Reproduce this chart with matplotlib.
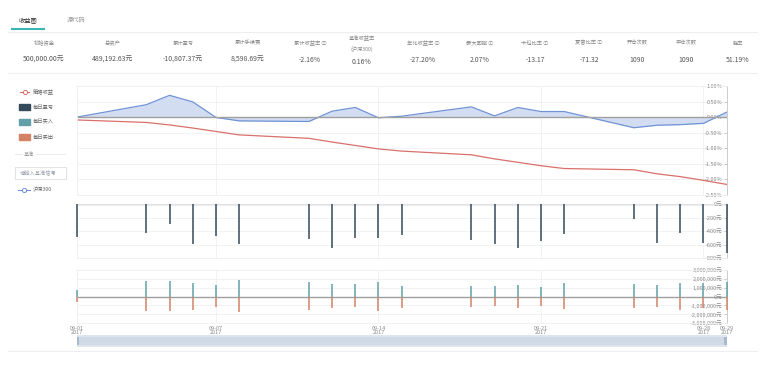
import numpy as np
import matplotlib.pyplot as plt
from matplotlib.patches import Rectangle

plt.rcParams['font.family'] = ['Noto Sans CJK SC', 'DejaVu Sans']

# trading days, September 2017
dates = ['09-01', '09-04', '09-05', '09-06', '09-07', '09-08', '09-11', '09-12',
         '09-13', '09-14', '09-15', '09-18', '09-19', '09-20', '09-21', '09-22',
         '09-25', '09-26', '09-27', '09-28', '09-29']
# cumulative returns (%)
strategy = [-0.09, -0.17, -0.25, -0.35, -0.46, -0.57, -0.68, -0.80, -0.91, -1.02, -1.09,
            -1.21, -1.34, -1.45, -1.56, -1.65, -1.69, -1.82, -1.91, -2.03, -2.16]
hs300 = [0.0, 0.40, 0.70, 0.49, -0.01, -0.12, -0.14, 0.19, 0.31, -0.02, 0.03,
         0.33, 0.04, 0.31, 0.18, 0.18, -0.34, -0.26, -0.24, -0.20, 0.16]
# daily profit / loss (yuan)
pnl = [-494, -425, -296, -588, -469, -588, -523, -652, -499, -509, -462,
       -528, -588, -657, -543, -440, -222, -578, -435, -573, -731]
# daily buy / sell (yuan)
buy = [0.75e6, 1.76e6, 1.76e6, 1.57e6, 1.31e6, 1.87e6, 1.61e6, 1.39e6, 1.39e6, 1.61e6, 1.24e6,
       1.24e6, 1.24e6, 1.31e6, 1.09e6, 1.50e6, 1.42e6, 1.35e6, 1.54e6, 1.50e6, 1.69e6]
sell = [-0.64e6, -1.69e6, -1.69e6, -1.50e6, -1.24e6, -1.80e6, -1.54e6, -1.31e6, -1.24e6, -1.61e6, -1.25e6,
        -1.24e6, -1.12e6, -1.31e6, -1.05e6, -1.42e6, -1.35e6, -1.20e6, -1.50e6, -1.31e6, -1.57e6]
xtick_dates = ['09-01', '09-07', '09-14', '09-21', '09-28', '09-29']

stat_labels = ['初始资金', '总资产', '累计盈亏', '累计手续费', '累计收益率 ⓘ', '基准收益率\n(沪深300)',
               '年化收益率 ⓘ', '最大回撤 ⓘ', '卡玛比率 ⓘ', '夏普比率 ⓘ', '开仓次数', '平仓次数', '胜率']
stat_values = ['500,000.00元', '489,192.63元', '-10,807.37元', '8,598.69元', '-2.16%', '0.16%',
               '-27.20%', '2.07%', '-13.17', '-71.32', '1090', '1090', '51.19%']
stat_x = [44, 113, 183, 248, 310, 362, 423, 480, 535, 589, 637, 686, 738]

x = [int(d.split('-')[1]) for d in dates]
xt = [int(d.split('-')[1]) for d in xtick_dates]

RED = '#d9706b'
BLUE = '#6f93d6'
DARK = '#34495a'
TEAL = '#61a0a8'
CORAL = '#d48265'
GRID = '#eef0f3'
TXT = '#8a8a8a'

fig = plt.figure(figsize=(7.67, 3.69), dpi=100)

# overlay for header / legend (pixel coordinates)
deco = fig.add_axes([0, 0, 1, 1])
deco.set_xlim(0, 767)
deco.set_ylim(369, 0)
deco.axis('off')

deco.text(28, 20, '收益图', fontsize=4.5, color='#333', ha='center', va='center')
deco.text(76, 20, '源代码', fontsize=4.5, color='#999', ha='center', va='center')
deco.plot([12, 44], [28.5, 28.5], color='#3cb6b2', lw=1.5)
deco.plot([8, 757], [32, 32], color='#eeeeee', lw=0.8)
deco.plot([8, 757], [73, 73], color='#eeeeee', lw=0.8)
deco.plot([8, 757], [351, 351], color='#eeeeee', lw=0.8)
for lab, val, sx in zip(stat_labels, stat_values, stat_x):
    if '\n' in lab:
        deco.text(sx, 44, lab, fontsize=3.8, color='#888', ha='center', va='center', linespacing=2.2)
        deco.text(sx, 62, val, fontsize=5, color='#555', ha='center', va='center')
    else:
        deco.text(sx, 43, lab, fontsize=3.8, color='#888', ha='center', va='center')
        deco.text(sx, 60, val, fontsize=5, color='#555', ha='center', va='center')

# legend on the left
deco.plot([20, 29], [92, 92], color=RED, lw=0.8, zorder=1)
deco.plot([24.5], [92], marker='o', ms=3, mfc='white', mec=RED, mew=0.7)
deco.text(33, 92, '策略收益', fontsize=3.8, color='#666', va='center')
for yy, c, lab in [(107, DARK, '每日盈亏'), (122, TEAL, '每日买入'), (137, CORAL, '每日卖出')]:
    deco.add_patch(Rectangle((19, yy - 3), 11, 6, color=c))
    deco.text(33, yy, lab, fontsize=3.8, color='#666', va='center')
deco.plot([15, 22], [154, 154], color='#e5e5e5', lw=0.6)
deco.plot([36, 65], [154, 154], color='#e5e5e5', lw=0.6)
deco.text(29, 154, '基准', fontsize=3.8, color='#999', ha='center', va='center')
deco.add_patch(Rectangle((15, 167), 51, 12, fc='white', ec='#dddddd', lw=0.6))
deco.text(20, 173, '请输入基准信号', fontsize=3.8, color='#99a0aa', va='center')
deco.plot([18, 30], [190, 190], color=BLUE, lw=0.8)
deco.plot([24], [190], marker='o', ms=3, mfc='white', mec=BLUE, mew=0.7)
deco.text(33, 190, '沪深300', fontsize=3.8, color='#666', va='center')

L, W = 76.7 / 767, 650 / 767


def fa(top, bottom):
    return [L, 1 - bottom / 369, W, (bottom - top) / 369]


ax1 = fig.add_axes(fa(86, 195))
ax2 = fig.add_axes(fa(204, 258))
ax3 = fig.add_axes(fa(270, 323))
slider = fig.add_axes(fa(335, 347))


def style(ax, ticks, labels):
    ax.set_xlim(1, 29)
    ax.set_yticks(ticks)
    ax.set_yticklabels(labels)
    ax.set_xticks(xt)
    ax.grid(True, color=GRID, lw=0.6)
    ax.set_axisbelow(True)
    for s in ['left', 'top', 'bottom']:
        ax.spines[s].set_color(GRID)
        ax.spines[s].set_linewidth(0.6)
    ax.spines['right'].set_color('#cccccc')
    ax.spines['right'].set_linewidth(0.7)
    ax.tick_params(axis='y', labelleft=False, labelright=True, left=False, right=True,
                   direction='in', length=2, width=0.5, color='#bbbbbb', pad=-3,
                   labelsize=4, labelcolor=TXT)
    for t in ax.yaxis.get_major_ticks():
        t.label2.set_horizontalalignment('right')
    ax.tick_params(axis='x', length=0, labelbottom=False)


# cumulative returns
ax1.fill_between(x, hs300, 0, color='#d3ddf2', lw=0)
ax1.plot(x, hs300, color=BLUE, lw=0.9)
ax1.plot(x, strategy, color=RED, lw=0.9)
ax1.axhline(0, color='#a0a0a0', lw=1)
ax1.set_ylim(-2.5, 1.0)
t1 = np.arange(-2.5, 1.01, 0.5)
style(ax1, t1, ['%.2f%%' % v for v in t1])

# daily pnl
ax2.vlines(x, 0, pnl, color=DARK, lw=1.1, clip_on=False, zorder=3)
ax2.axhline(0, color='#a0a0a0', lw=1)
ax2.set_ylim(-800, 0)
t2 = [0, -200, -400, -600, -800]
style(ax2, t2, ['%d元' % v for v in t2])

# daily buy / sell
ax3.vlines(x, 0, buy, color=TEAL, lw=1.1, clip_on=False, zorder=3)
ax3.vlines(x, 0, sell, color=CORAL, lw=1.1, clip_on=False, zorder=3)
ax3.axhline(0, color='#a0a0a0', lw=1)
ax3.set_ylim(-3e6, 3e6)
t3 = np.arange(-3e6, 3.01e6, 1e6)
style(ax3, t3, ['{:,.0f}元'.format(v) for v in t3])
ax3.tick_params(axis='x', labelbottom=True, labelsize=4, labelcolor=TXT, pad=2)
ax3.set_xticklabels([d + '\n2017' for d in xtick_dates], linespacing=0.9)

# data zoom slider
slider.set_xlim(1, 29)
slider.set_ylim(0, 1)
slider.axvspan(1, 29, ymin=0, ymax=1, color='#dfe5ee', lw=0)
slider.axvspan(1, 29, ymin=0.15, ymax=0.85, color='#d0d9e6', lw=0)
slider.axvspan(1, 1.12, ymin=0.15, ymax=0.85, color='#a9b8cc', lw=0)
slider.axvspan(28.88, 29, ymin=0.15, ymax=0.85, color='#a9b8cc', lw=0)
slider.axis('off')

fig.savefig('out.png', dpi=100)
